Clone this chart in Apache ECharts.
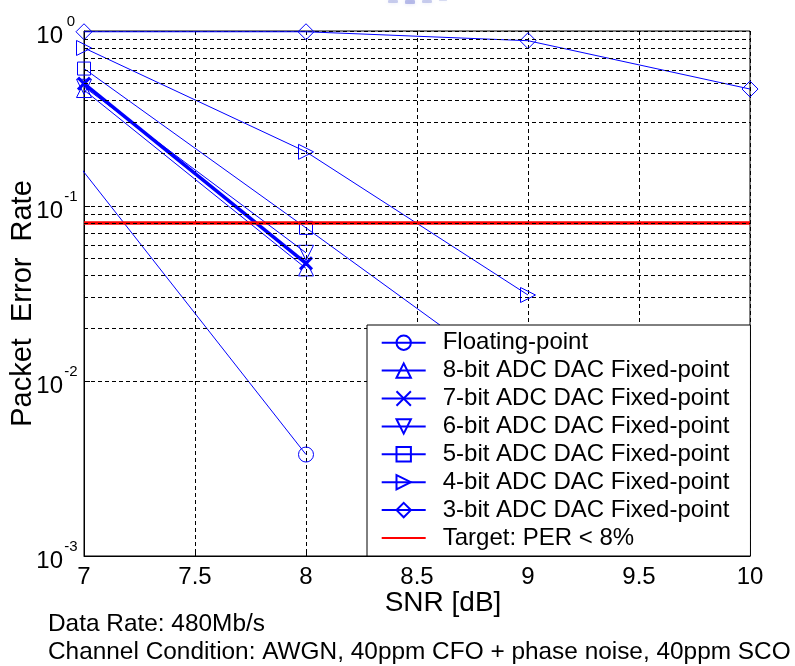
<!DOCTYPE html>
<html>
<head>
<meta charset="utf-8">
<script src="https://cdn.jsdelivr.net/npm/echarts@6/dist/echarts.min.js"></script>
<style>
  html, body { margin: 0; padding: 0; background: #fff; }
  #chart { width: 795px; height: 666px; }
</style>
</head>
<body>
<div id="chart"></div>
<script>
// SNR points (dB) and packet error rate per receiver configuration
const snrPoints = [7, 8, 9, 10];
const floatingSnr = [6.5, 8];
const floatingPer = [1.0, 0.0038];
const per8bit = [0.46, 0.044];
const per7bit = [0.50, 0.047];
const per6bit = [0.48, 0.054];
const per5bit = [0.61, 0.075, 0.009];
const per4bit = [0.80, 0.204, 0.031];
const per3bit = [0.99, 0.99, 0.88, 0.466];
const targetPer = 0.08;
const targetSnr = [7, 10];

const seriesNames = [
  'Floating-point',
  '8-bit ADC DAC Fixed-point',
  '7-bit ADC DAC Fixed-point',
  '6-bit ADC DAC Fixed-point',
  '5-bit ADC DAC Fixed-point',
  '4-bit ADC DAC Fixed-point',
  '3-bit ADC DAC Fixed-point',
  'Target: PER < 8%'
];
const xTickLabels = ['7', '7.5', '8', '8.5', '9', '9.5', '10'];
const infoLines = ['Data Rate: 480Mb/s', 'Channel Condition: AWGN, 40ppm CFO + phase noise, 40ppm SCO'];

const FONT = '"Liberation Sans", Arial, sans-serif';
const BLUE = '#0000ff';

// minor log grid: 2..9 in every decade between 1e-3 and 1
const minorGrid = [];
[0.001, 0.01, 0.1].forEach(d => {
  for (let k = 1; k <= 9; k++) { if (k > 1 || d > 0.001) minorGrid.push(+(k * d).toPrecision(3)); }
});

function pairs(xs, ys) { return ys.map((y, i) => [xs[i], y]); }

function curve(name, xs, ys, symbol, opts) {
  opts = opts || {};
  return {
    name: name,
    type: 'line',
    data: pairs(xs, ys),
    symbol: symbol,
    symbolSize: opts.size || 15,
    symbolRotate: opts.rotate || 0,
    showAllSymbol: true,
    clip: true,
    z: 3,
    lineStyle: { color: BLUE, width: opts.width || 1 },
    itemStyle: { color: 'rgba(0,0,0,0)', borderColor: BLUE, borderWidth: opts.border || 1 },
    emphasis: { disabled: true },
    animation: false
  };
}

const chart = echarts.init(document.getElementById('chart'), null, { renderer: 'canvas' });

chart.setOption({
  backgroundColor: '#fff',
  animation: false,
  grid: {
    left: 84, right: 45, top: 31, bottom: 110,
    outerBoundsMode: 'none', containLabel: false,
    show: true, borderColor: '#000', borderWidth: 1, backgroundColor: 'transparent'
  },
  xAxis: {
    type: 'value', min: 7, max: 10, interval: 0.5,
    name: 'SNR [dB]', nameLocation: 'middle', nameGap: 33, nameMoveOverlap: false,
    nameTextStyle: { fontFamily: FONT, fontSize: 28, color: '#000', padding: [0, 0, 0, 52] },
    axisLine: { show: true, lineStyle: { color: '#000' } },
    axisTick: { show: true, inside: true, length: 6, lineStyle: { color: '#000' } },
    axisLabel: {
      margin: 9, fontFamily: FONT, fontSize: 24, color: '#000',
      formatter: (v) => xTickLabels[Math.round((v - 7) * 2)]
    },
    splitLine: { show: true, lineStyle: { color: '#000', type: [4, 3], width: 1 } }
  },
  yAxis: {
    type: 'log', logBase: 10, min: 0.001, max: 1,
    name: 'Packet  Error  Rate', nameLocation: 'middle', nameGap: 47, nameMoveOverlap: false,
    nameTextStyle: { fontFamily: FONT, fontSize: 29, color: '#000', padding: [0, 20, 0, 0] },
    axisLine: { show: true, lineStyle: { color: '#000' } },
    axisTick: { show: true, inside: true, length: 6, lineStyle: { color: '#000' } },
    axisLabel: {
      margin: 5, color: '#000',
      formatter: (v) => '{b|10}{s|' + Math.round(Math.log10(v)) + '}',
      rich: {
        b: { fontFamily: FONT, fontSize: 24, color: '#000', verticalAlign: 'bottom', lineHeight: 34 },
        s: { fontFamily: FONT, fontSize: 15, color: '#000', verticalAlign: 'top', lineHeight: 34, width: 16, align: 'left' }
      }
    },
    splitLine: { show: true, lineStyle: { color: '#000', type: [4, 3], width: 1 } }
  },
  legend: {
    orient: 'vertical', left: 367, top: 325,
    data: seriesNames.map((n, i) => i === 7 ? { name: n, itemStyle: { opacity: 0 } } : n),
    itemWidth: 44, itemHeight: 18, itemGap: 3.9,
    padding: [5.7, 21, 6, 13.7],
    backgroundColor: '#fff', borderColor: '#000', borderWidth: 1,
    textStyle: { fontFamily: FONT, fontSize: 24, color: '#000', padding: [0, 0, 0, 12] },
    selectedMode: false,
    z: 10
  },
  graphic: [
    // faint remnant of a header logo along the top edge
    { type: 'group', left: 388, top: 0, silent: true, children: [
      { type: 'rect', shape: { x: 0, y: 0, width: 10, height: 3, r: 1 }, style: { fill: 'rgba(130,140,215,0.4)', shadowBlur: 4, shadowColor: 'rgba(130,140,215,0.5)' } },
      { type: 'rect', shape: { x: 17, y: 0, width: 10, height: 4, r: 1 }, style: { fill: 'rgba(110,120,210,0.45)', shadowBlur: 4, shadowColor: 'rgba(110,120,210,0.5)' } },
      { type: 'rect', shape: { x: 34, y: 0, width: 10, height: 3, r: 1 }, style: { fill: 'rgba(130,140,215,0.4)', shadowBlur: 4, shadowColor: 'rgba(130,140,215,0.5)' } },
      { type: 'rect', shape: { x: 51, y: 0, width: 8, height: 1, r: 1 }, style: { fill: 'rgba(150,160,220,0.35)', shadowBlur: 3, shadowColor: 'rgba(150,160,220,0.5)' } }
    ] },
    { type: 'text', left: 48, top: 612, style: { text: infoLines[0], font: '24.4px ' + FONT, fill: '#000' } },
    { type: 'text', left: 48, top: 640, style: { text: infoLines[1], font: '24.4px ' + FONT, fill: '#000' } }
  ],
  series: [
    // dashed minor grid of the log axis
    {
      name: 'grid', type: 'line', data: [[7, 0.5]], showSymbol: false, symbol: 'none', z: 1,
      lineStyle: { width: 0 }, silent: true, legendHoverLink: false,
      markLine: {
        silent: true, symbol: 'none', animation: false, label: { show: false },
        lineStyle: { color: '#000', type: [4, 3], width: 1 },
        emphasis: { disabled: true },
        data: minorGrid.map(v => ({ yAxis: v }))
      }
    },
    curve(seriesNames[0], floatingSnr, floatingPer, 'circle'),
    curve(seriesNames[1], snrPoints, per8bit, 'triangle'),
    curve(seriesNames[2], snrPoints, per7bit, 'path://M0,0L10,10M10,0L0,10', { width: 3.5, border: 3, size: 12 }),
    curve(seriesNames[3], snrPoints, per6bit, 'triangle', { rotate: 180 }),
    curve(seriesNames[4], snrPoints, per5bit, 'rect', { size: 13 }),
    curve(seriesNames[5], snrPoints, per4bit, 'triangle', { rotate: -90 }),
    curve(seriesNames[6], snrPoints, per3bit, 'diamond', { size: 16 }),
    {
      name: seriesNames[7], type: 'line', z: 4,
      data: targetSnr.map(x => [x, targetPer]),
      symbol: 'none', showSymbol: false,
      lineStyle: { color: '#ff0000', width: 3.5 },
      itemStyle: { color: '#ff0000' },
      emphasis: { disabled: true }
    }
  ]
});
</script>
</body>
</html>
